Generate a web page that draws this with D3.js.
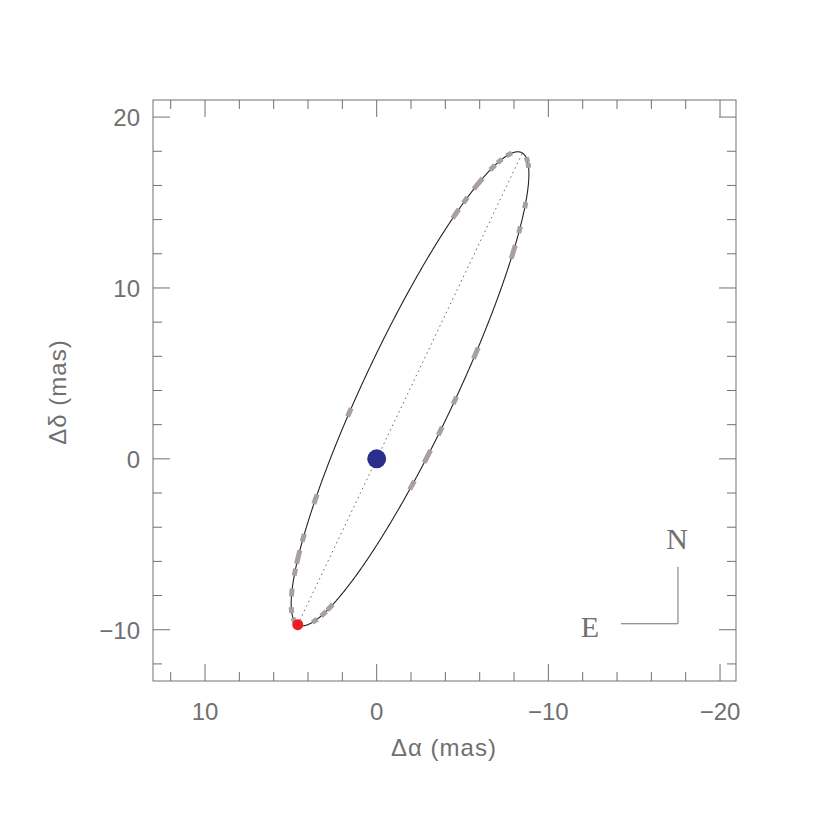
<!DOCTYPE html>
<html><head><meta charset="utf-8">
<script src="https://cdn.jsdelivr.net/npm/d3@7"></script>
<style>body{margin:0;background:#fff}</style>
</head><body>
<script>
// orbit (Thiele-Innes style), relative to primary at origin
var ecc = 0.297;
var orbitA = 6.54, orbitB = -13.8, orbitF = 2.38, orbitG = 1.47;
// observed positions (dRA, dDec, dash length px)
var obsX = [-7.58, -7.11, -6.76, -5.95, -5.25, -4.66, -8.86, -8.86, -8.51, -8.16, -7.75, -5.54, -4.25, -3.38, -2.68, -1.81, 1.40, 3.38, 4.08, 4.37, 4.61, 4.84, 4.84, 4.78, 3.67, 3.21, 2.80];
var obsY = [18.07, 17.49, 17.08, 16.08, 15.09, 14.27, 17.54, 17.19, 14.85, 13.45, 12.16, 6.32, 3.57, 1.75, 0.29, -1.40, 2.63, -2.40, -4.68, -5.79, -6.67, -7.84, -8.83, -9.42, -9.36, -8.95, -8.60];
var obsLen = [6, 6, 7, 14, 7, 11, 5, 5, 6, 7, 14, 12, 8, 9, 14, 10, 9, 10, 8, 14, 7, 8, 6, 5, 6, 7, 8];
var xTicks = [10, 0, -10, -20];
var yTicks = [-10, 0, 10, 20];

var w = 830, h = 830;
var x0 = 153, x1 = 736, y0 = 100, y1 = 681;
var grey = "#707070";

var svg = d3.select("body").append("svg").attr("width", w).attr("height", h);

var xScale = d3.scaleLinear().domain([13.03, -20.93]).range([x0, x1]);
var yScale = d3.scaleLinear().domain([-13, 21]).range([y1, y0]);

function orbit(E) {
  var X = Math.cos(E) - ecc, Y = Math.sqrt(1 - ecc * ecc) * Math.sin(E);
  return [orbitA * X + orbitF * Y, orbitB * X + orbitG * Y];
}

var Es = d3.range(0, 2 * Math.PI + 0.001, 0.005);
var line = d3.line().x(function(d){ return xScale(d[0]); }).y(function(d){ return yScale(d[1]); });

svg.append("path").datum(Es.map(orbit)).attr("d", line)
   .attr("fill", "none").attr("stroke", "#222").attr("stroke-width", 1.1);

// line of apsides
svg.append("path").datum([orbit(0), orbit(Math.PI)]).attr("d", line)
   .attr("stroke", "#555").attr("stroke-width", 0.9).attr("stroke-dasharray", "1.5,3.5");

// observation dashes, centred on the orbit nearest each observation
obsX.forEach(function(ox, i) {
  var oy = obsY[i], best = 0, bd = 1e9;
  Es.forEach(function(E) {
    var p = orbit(E), d = (p[0]-ox)*(p[0]-ox) + (p[1]-oy)*(p[1]-oy);
    if (d < bd) { bd = d; best = E; }
  });
  var pc = orbit(best), p1 = orbit(best - 0.01), p2 = orbit(best + 0.01);
  var dx = xScale(p2[0]) - xScale(p1[0]), dy = yScale(p2[1]) - yScale(p1[1]);
  var n = Math.sqrt(dx*dx + dy*dy), L = obsLen[i] / 2;
  var cx = xScale(pc[0]), cy = yScale(pc[1]);
  svg.append("line")
     .attr("x1", cx - dx/n*L).attr("y1", cy - dy/n*L)
     .attr("x2", cx + dx/n*L).attr("y2", cy + dy/n*L)
     .attr("stroke", "#a99f9f").attr("stroke-width", 5);
});

// primary and periastron
svg.append("circle").attr("cx", xScale(0)).attr("cy", yScale(0)).attr("r", 9.5).attr("fill", "#2b2f8c");
var peri = orbit(0);
svg.append("circle").attr("cx", xScale(peri[0])).attr("cy", yScale(peri[1])).attr("r", 5.5).attr("fill", "#ee1c24");

// frame
svg.append("rect").attr("x", x0).attr("y", y0).attr("width", x1 - x0).attr("height", y1 - y0)
   .attr("fill", "none").attr("stroke", grey).attr("stroke-width", 1);

// ticks inside on all sides
var minorX = d3.range(12, -21, -2), minorY = d3.range(-12, 21, 2);
minorX.forEach(function(v) {
  var L = (v % 10 === 0) ? 17 : 9;
  svg.append("line").attr("x1", xScale(v)).attr("x2", xScale(v)).attr("y1", y1).attr("y2", y1 - L).attr("stroke", grey);
  svg.append("line").attr("x1", xScale(v)).attr("x2", xScale(v)).attr("y1", y0).attr("y2", y0 + L).attr("stroke", grey);
});
minorY.forEach(function(v) {
  var L = (v % 10 === 0) ? 17 : 9;
  svg.append("line").attr("y1", yScale(v)).attr("y2", yScale(v)).attr("x1", x0).attr("x2", x0 + L).attr("stroke", grey);
  svg.append("line").attr("y1", yScale(v)).attr("y2", yScale(v)).attr("x1", x1).attr("x2", x1 - L).attr("stroke", grey);
});

function fmt(v) { return v < 0 ? "\u2212" + (-v) : String(v); }
var font = "'Liberation Sans', sans-serif";
xTicks.forEach(function(v) {
  svg.append("text").attr("x", xScale(v)).attr("y", 720).attr("text-anchor", "middle")
     .style("font-family", font).style("font-size", "24px").attr("fill", grey).text(fmt(v));
});
yTicks.forEach(function(v) {
  svg.append("text").attr("x", 140).attr("y", yScale(v) + 9).attr("text-anchor", "end")
     .style("font-family", font).style("font-size", "24px").attr("fill", grey).text(fmt(v));
});

svg.append("text").attr("x", 444).attr("y", 756).attr("text-anchor", "middle")
   .style("font-family", font).style("font-size", "24px").style("letter-spacing", "1px").attr("fill", grey).text("\u0394\u03b1  (mas)");
svg.append("text").attr("transform", "translate(66,392) rotate(-90)").attr("text-anchor", "middle")
   .style("font-family", font).style("font-size", "24px").style("letter-spacing", "1px").attr("fill", grey).text("\u0394\u03b4  (mas)");

// compass
var serif = "'Liberation Serif', 'DejaVu Serif', serif";
svg.append("line").attr("x1", xScale(-17.55)).attr("x2", xScale(-17.55)).attr("y1", yScale(-6.32)).attr("y2", yScale(-9.65)).attr("stroke", grey);
svg.append("line").attr("x1", xScale(-14.23)).attr("x2", xScale(-17.55)).attr("y1", yScale(-9.65)).attr("y2", yScale(-9.65)).attr("stroke", grey);
svg.append("text").attr("x", 677).attr("y", 549).attr("text-anchor", "middle")
   .style("font-family", serif).style("font-size", "30px").attr("fill", grey).text("N");
svg.append("text").attr("x", 590).attr("y", 637).attr("text-anchor", "middle")
   .style("font-family", serif).style("font-size", "30px").attr("fill", grey).text("E");
</script>
</body></html>
